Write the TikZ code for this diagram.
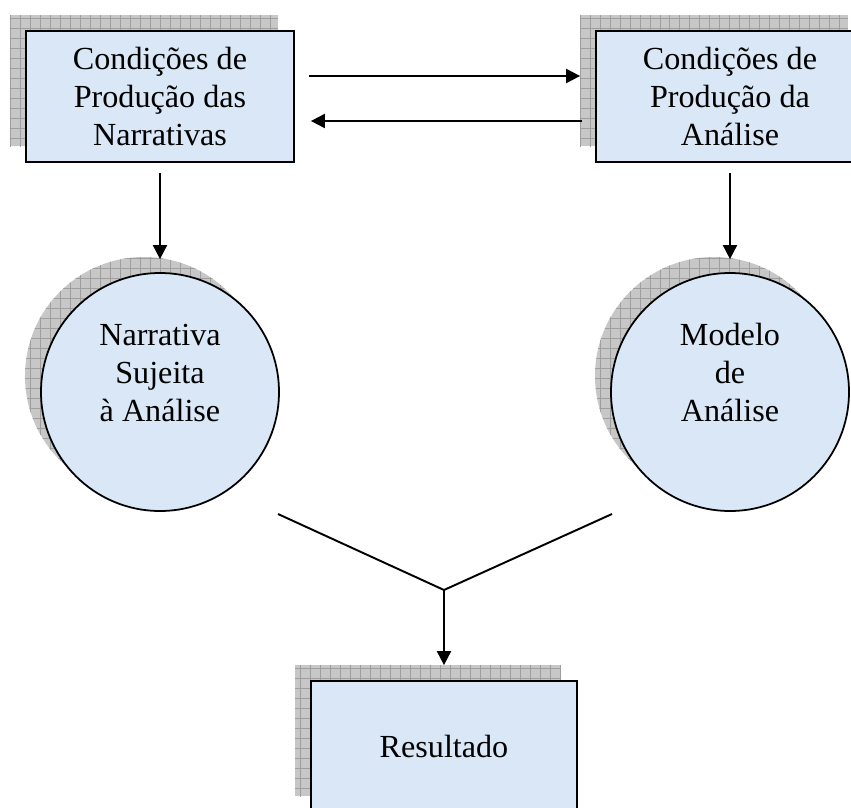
\documentclass[tikz,border=0pt]{standalone}
\usepackage{fontspec}
\setmainfont{Liberation Serif}
\usetikzlibrary{arrows.meta,patterns.meta}
\definecolor{paleblue}{RGB}{218,231,246}

\begin{document}
\begin{tikzpicture}
  [offshadow/.style={preaction={fill=black!22,transform canvas={shift={(-0.32,0.32)}}},
     preaction={pattern={Hatch[distance=5.69pt,angle=0,line width=.5pt]},pattern color=black!38,transform canvas={shift={(-0.32,0.32)}}}},
   every node/.style={offshadow,draw,line width=1pt,fill=paleblue,align=center,font=\fontsize{18.3}{21.6}\selectfont},
   box/.style={rectangle,minimum width=5.36cm,minimum height=2.62cm},
   disc/.style={circle,minimum size=4.76cm,inner sep=0pt,text depth=22pt},
   arr/.style={-{Triangle[length=8pt,width=8pt]},line width=1.1pt}]
  \path[use as bounding box,clip] (0,0) rectangle (17.02,-16.16);

  \node [box] (cpn) at (3.2,-1.93) {Condições de\\Produção das\\Narrativas};
  \node [box] (cpa) at (14.6,-1.93) {Condições de\\Produção da\\Análise};
  \node [disc] (nsa) at (3.2,-7.84) {Narrativa\\Sujeita\\à Análise};
  \node [disc] (mda) at (14.6,-7.84) {Modelo\\de\\Análise};
  \node [box,minimum width=5.32cm] (res) at (8.88,-14.93) {Resultado};

  \coordinate (join) at (8.88,-11.8);
  \coordinate (lend) at (5.56,-10.28);
  \coordinate (rend) at (12.24,-10.28);

  \draw [arr] ([xshift=0.28cm,yshift=0.41cm]cpn.east) -- ([xshift=-0.3cm,yshift=0.41cm]cpa.west);
  \draw [arr] ([xshift=-0.26cm,yshift=-0.49cm]cpa.west) -- ([xshift=0.32cm,yshift=-0.49cm]cpn.east);
  \foreach \from/\to in {cpn/nsa,cpa/mda}
    \draw [arr] ([yshift=-0.2cm]\from.south) -- ([yshift=0.26cm]\to.north);
  \draw [line width=1.1pt] (lend) -- (join) -- (rend);
  \draw [arr] (join) -- ([yshift=0.3cm]res.north);

\end{tikzpicture}
\end{document}
